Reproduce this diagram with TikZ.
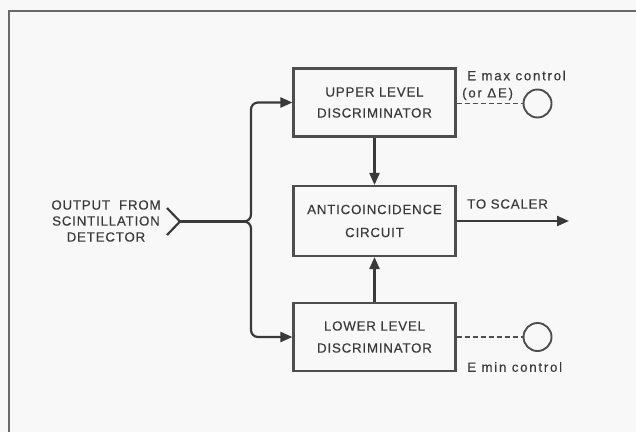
\documentclass[tikz,border=0pt]{standalone}
\usepackage{fontspec}
\setmainfont{Liberation Sans}
\newfontfamily\capsfont[LetterSpace=6,FakeBold=0.3]{Liberation Sans}
\newfontfamily\lowfont[LetterSpace=13,FakeBold=0.3]{Liberation Sans}
\usetikzlibrary{arrows.meta}
\definecolor{ink}{HTML}{3A3A3A}
\definecolor{boxline}{HTML}{4E4E4E}
\definecolor{paper}{HTML}{F8F8F8}
\tikzset{
  blockbox/.style={draw=boxline, line width=2.1pt, minimum width=162pt, minimum height=68pt,
    inner sep=0pt, align=center, text=ink, font=\capsfont\fontsize{13.3}{21}\selectfont},
  wire/.style={draw=ink, line width=2.2pt},
  sig/.style={wire, -{Triangle[length=12pt,width=10pt]}},
  ctrl/.style={draw=boxline, line width=1.5pt, dash pattern=on 5pt off 3pt},
  knob/.style={draw=boxline, line width=1.9pt, circle, minimum size=28pt, inner sep=0pt},
  caplabel/.style={text=ink, inner sep=0pt, font=\capsfont\fontsize{13.3}{16}\selectfont},
  lowlabel/.style={text=ink, inner sep=0pt, anchor=west, font=\lowfont\fontsize{13.3}{16}\selectfont},
}
\begin{document}
\begin{tikzpicture}[x=1pt, y=-1pt]
\useasboundingbox (0,0) rectangle (636,432);
\fill[paper] (0,0) rectangle (636,432);
% frame
\draw[draw=boxline!85, line width=2.8pt] (9,432) -- (9,11) -- (636,11);

% blocks
\node[blockbox] (upper) at (374.5,102.5) {UPPER\ LEVEL\\DISCRIMINATOR};
\node[blockbox, minimum height=70pt] (anti) at (374.5,221) {ANTICOINCIDENCE\\[2pt]CIRCUIT};
\node[blockbox] (lower) at (374.5,337) {LOWER\ LEVEL\\[1pt]DISCRIMINATOR};

% input
\node[caplabel, align=center] (inlabel) at (106,221) {OUTPUT\ \ FROM\\SCINTILLATION\\DETECTOR};
\coordinate (chevtip) at (180,221.5);
\coordinate (chevtop) at (167,208);
\coordinate (chevbot) at (167,235);
\coordinate (split) at (251,221.5);
\draw[wire, line join=miter] (chevtop) -- (chevtip) -- (chevbot);
\draw[wire] (chevtip) -- (245,221.5);
\draw[sig, rounded corners=7pt] (244,221.5) -- (split) -- (split |- upper.west) -- (upper.west);
\draw[sig, rounded corners=7pt] (244,221.5) -- (split) -- (split |- lower.west) -- (lower.west);

% vertical links
\draw[sig] (upper.south) -- (anti.north);
\draw[sig] (lower.north) -- (anti.south);

% output
\coordinate (out) at (569,221);
\draw[sig] (anti.east) -- (out);
\node[caplabel, anchor=west] (toscaler) at (467,204) {TO SCALER};

% controls
\node[knob] (maxknob) at (537.5,103.5) {};
\node[knob] (minknob) at (537.5,337) {};
\draw[ctrl] (upper.east |- maxknob) -- (maxknob.west);
\draw[ctrl] (lower.east) -- (minknob.west);
\node[lowlabel] (maxlabel) at (467,75.5) {E max control};
\node[lowlabel] (orlabel) at (462,94) {(or ΔE)};
\node[lowlabel] (minlabel) at (467,367) {E min control};
\end{tikzpicture}
\end{document}
